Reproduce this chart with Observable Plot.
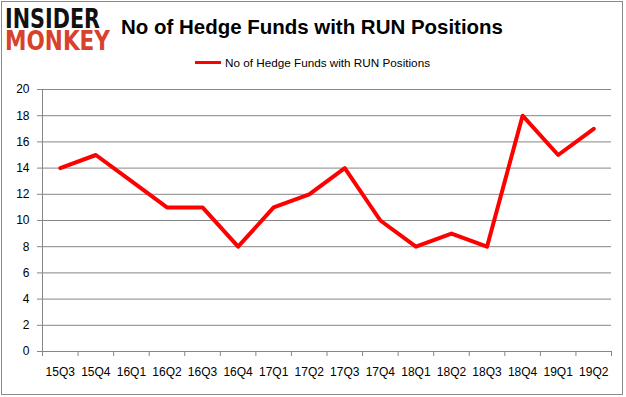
<!DOCTYPE html>
<html>
<head>
<meta charset="utf-8">
<script src="https://cdn.jsdelivr.net/npm/d3@7"></script>
<script src="https://cdn.jsdelivr.net/npm/@observablehq/plot@0.6"></script>
<style>
  html, body { margin: 0; padding: 0; background: #fff; }
  #wrap { position: relative; width: 626px; height: 397px; overflow: hidden; }
  #wrap > svg { position: absolute; left: 0; top: 0; }
</style>
</head>
<body>
<div id="wrap"></div>
<script>
const quarters = ["15Q3","15Q4","16Q1","16Q2","16Q3","16Q4","17Q1","17Q2","17Q3","17Q4","18Q1","18Q2","18Q3","18Q4","19Q1","19Q2"];
const funds = [14, 15, 13, 11, 11, 8, 11, 12, 14, 10, 8, 9, 8, 18, 15, 17];
const yTicks = [0, 2, 4, 6, 8, 10, 12, 14, 16, 18, 20];
const seriesName = "No of Hedge Funds with RUN Positions";
const titleText = "No of Hedge Funds with RUN Positions";

const data = quarters.map((q, i) => ({i, q, v: funds[i]}));
const bounds = d3.range(quarters.length + 1).map(i => i - 0.5);
const grid = "#868686";

const chart = Plot.plot({
  width: 626,
  height: 397,
  marginLeft: 42,
  marginRight: 15,
  marginTop: 89,
  marginBottom: 46,
  style: {fontFamily: "'Liberation Sans', Arial, sans-serif", fontSize: "12px", color: "#000", background: "transparent"},
  x: {domain: [-0.5, quarters.length - 0.5], label: null},
  y: {domain: [0, 20], label: null},
  marks: [
    Plot.gridY(yTicks, {stroke: grid, strokeOpacity: 1}),
    Plot.frame({anchor: "left", stroke: grid}),
    Plot.frame({anchor: "bottom", stroke: grid}),
    Plot.axisY(yTicks, {tickSize: 5, tickPadding: 8, stroke: grid, fill: "#000", label: null}),
    Plot.axisX(bounds, {tickSize: 5, tickFormat: () => "", stroke: grid, label: null}),
    Plot.axisX(d3.range(quarters.length), {tickSize: 0, tickPadding: 16, tickFormat: i => quarters[i], fill: "#000", label: null}),
    Plot.lineY(data, {x: "i", y: "v", stroke: "#ff0000", strokeWidth: 4})
  ]
});

const wrap = document.getElementById("wrap");
wrap.appendChild(chart);

const ns = "http://www.w3.org/2000/svg";
const ov = document.createElementNS(ns, "svg");
ov.setAttribute("width", 626);
ov.setAttribute("height", 397);
ov.innerHTML = `
  <rect x="1.5" y="1.5" width="621" height="393" fill="none" stroke="#8a8a8a" stroke-width="1"/>
  <text x="5" y="28" font-family="'DejaVu Sans', sans-serif" font-weight="900" font-size="26" fill="#111" textLength="95" lengthAdjust="spacingAndGlyphs">INSIDER</text>
  <text x="5" y="50" font-family="'DejaVu Sans', sans-serif" font-weight="900" font-size="26" fill="#d8412c" textLength="105" lengthAdjust="spacingAndGlyphs">MONKEY</text>
  <text x="121" y="33.5" font-family="'Liberation Sans', Arial, sans-serif" font-weight="bold" font-size="21" fill="#000" textLength="382" lengthAdjust="spacingAndGlyphs">${titleText}</text>
  <line x1="195" y1="62.5" x2="221" y2="62.5" stroke="#ff0000" stroke-width="3"/>
  <text x="225" y="66.5" font-family="'Liberation Sans', Arial, sans-serif" font-size="11" fill="#000" textLength="205" lengthAdjust="spacingAndGlyphs">${seriesName}</text>
`;
wrap.appendChild(ov);
</script>
</body>
</html>
